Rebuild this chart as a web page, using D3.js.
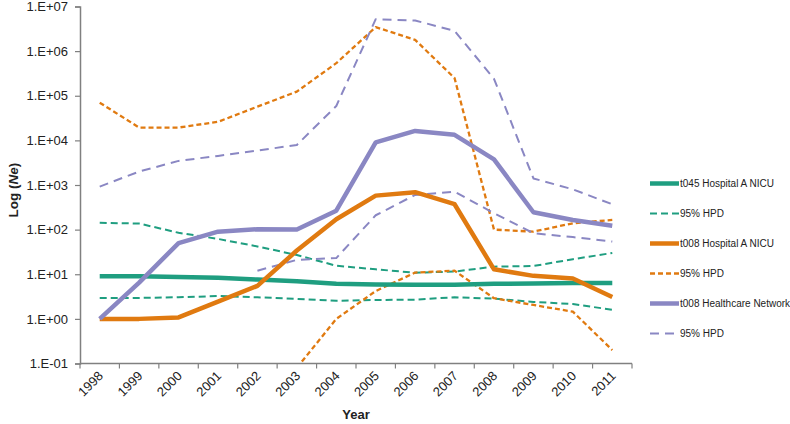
<!DOCTYPE html>
<html>
<head>
<meta charset="utf-8">
<script src="https://cdn.jsdelivr.net/npm/d3@7"></script>
<style>
  html, body { margin: 0; padding: 0; background: #fff; }
  svg { display: block; font-family: "Liberation Sans", Arial, sans-serif; }
</style>
</head>
<body>
<svg id="chart" width="790" height="424"></svg>
<script>
// ---- Data ----
const years = ["1998","1999","2000","2001","2002","2003","2004","2005","2006","2007","2008","2009","2010","2011"];
const yTickValues = [1e-1, 1e0, 1e1, 1e2, 1e3, 1e4, 1e5, 1e6, 1e7];

const t045HospA    = [9.0, 9.0, 8.7, 8.3, 7.6, 7.0, 6.1, 5.9, 5.8, 5.8, 6.1, 6.2, 6.4, 6.4];
const t045HospAHi  = [142, 137, 85, 62, 42, 27, 15.5, 12.9, 10.8, 11.5, 14.8, 15.3, 21.7, 30];
const t045HospALo  = [2.95, 2.95, 3.05, 3.25, 3.05, 2.8, 2.55, 2.65, 2.7, 3.05, 2.85, 2.4, 2.15, 1.6];

const t008HospA    = [1.0, 1.0, 1.08, 2.43, 5.5, 34, 171, 578, 689, 371, 12.9, 9.2, 8.0, 3.1];
const t008HospAHi  = [70000, 19400, 19400, 26000, 57000, 124000, 537000, 3450000, 1790000, 248000, 100, 90, 139, 165];
const t008HospALo  = [null, null, null, null, null, 0.08, 1.0, 4.2, 10.9, 12.0, 2.9, 2.05, 1.45, 0.2];

const t008Network   = [1.0, 6.5, 50, 90, 102, 101, 265, 9000, 16300, 13300, 3750, 245, 165, 122];
const t008NetworkHi = [920, 2000, 3470, 4490, 5900, 7900, 59000, 5200000, 4850000, 2850000, 240000, 1400, 800, 370];
const t008NetworkLo = [null, null, null, null, 12.0, 21, 23, 210, 600, 711, 233, 83, 68, 54];

const legendLabels = ["t045 Hospital A NICU", "95% HPD", "t008 Hospital A NICU", "95% HPD", "t008 Healthcare Network", "95% HPD"];

// ---- Styles ----
const TEAL = "#1f9e80", ORANGE = "#e07a10", PURPLE = "#8a87c3";
const series = [
  { values: t045HospA,     color: TEAL,   width: 4.5, dash: null },
  { values: t045HospALo,   color: TEAL,   width: 2,   dash: "7,4" },
  { values: t045HospAHi,   color: TEAL,   width: 2,   dash: "7,4" },
  { values: t008HospA,     color: ORANGE, width: 4.5, dash: null },
  { values: t008HospALo,   color: ORANGE, width: 2.3, dash: "5,3" },
  { values: t008HospAHi,   color: ORANGE, width: 2.3, dash: "5,3" },
  { values: t008Network,   color: PURPLE, width: 4.5, dash: null },
  { values: t008NetworkLo, color: PURPLE, width: 2,   dash: "9,6" },
  { values: t008NetworkHi, color: PURPLE, width: 2,   dash: "9,6" }
];

const svg = d3.select("#chart");
const mLeft = 80, mRight = 632, mTop = 6.5, mBottom = 363.5;

const x = d3.scaleBand().domain(years).range([mLeft, mRight]);
const cx = d => x(d) + x.bandwidth() / 2;
const y = d3.scaleLog().domain([0.1, 1e7]).range([mBottom, mTop]);

svg.append("defs").append("clipPath").attr("id", "plotclip")
  .append("rect").attr("x", mLeft).attr("y", mTop - 5)
  .attr("width", mRight - mLeft + 10).attr("height", mBottom - mTop + 5);

// ---- Lines ----
const line = d3.line()
  .defined(d => d.v != null)
  .x(d => cx(d.year))
  .y(d => y(d.v));

const gLines = svg.append("g").attr("clip-path", "url(#plotclip)");
const drawOrder = [1, 2, 4, 5, 7, 8, 0, 3, 6];
drawOrder.forEach(i => {
  const s = series[i];
  const data = years.map((yr, k) => ({ year: yr, v: s.values[k] }));
  gLines.append("path")
    .datum(data)
    .attr("d", line)
    .attr("fill", "none")
    .attr("stroke", s.color)
    .attr("stroke-width", s.width)
    .attr("stroke-linejoin", "round")
    .attr("stroke-dasharray", s.dash);
});

// ---- Axes ----
const fmt = d => {
  const e = Math.round(Math.log10(d));
  const sign = e < 0 ? "-" : "+";
  return "1.E" + sign + String(Math.abs(e)).padStart(2, "0");
};
const yAxis = svg.append("g")
  .attr("transform", `translate(${mLeft},0)`)
  .call(d3.axisLeft(y).tickValues(yTickValues).tickFormat(fmt).tickSize(5).tickPadding(7));
yAxis.select(".domain").attr("stroke", "#808080").attr("stroke-width", 1.5);
yAxis.selectAll(".tick line").attr("stroke", "#808080").attr("stroke-width", 1.2);
yAxis.selectAll(".tick text").attr("font-size", 13).attr("fill", "#222")
  .attr("font-family", "'Liberation Sans', Arial, sans-serif");

const xAxis = svg.append("g")
  .attr("transform", `translate(0,${mBottom})`)
  .call(d3.axisBottom(x).tickSize(0).tickPadding(0));
xAxis.select(".domain").remove();
xAxis.selectAll(".tick text")
  .attr("font-size", 13).attr("fill", "#222")
  .attr("font-family", "'Liberation Sans', Arial, sans-serif")
  .attr("text-anchor", "end")
  .attr("transform", "translate(1,10) rotate(-45)")
  .attr("dy", "0.35em");

svg.append("line").attr("x1", mLeft).attr("x2", mRight).attr("y1", mBottom).attr("y2", mBottom)
  .attr("stroke", "#808080").attr("stroke-width", 1.5);
const boundaries = years.map(d => x(d)).concat([x.range()[1]]);
svg.append("g").selectAll("line").data(boundaries).join("line")
  .attr("x1", d => d).attr("x2", d => d)
  .attr("y1", mBottom).attr("y2", mBottom + 5)
  .attr("stroke", "#808080").attr("stroke-width", 1.2);

// ---- Axis titles ----
const yt = svg.append("text")
  .attr("transform", `translate(18,${(mTop + mBottom) / 2 + 5}) rotate(-90)`)
  .attr("text-anchor", "middle")
  .attr("font-size", 13.5).attr("font-weight", "bold").attr("fill", "#222");
yt.append("tspan").text("Log (");
yt.append("tspan").attr("font-style", "italic").text("Ne");
yt.append("tspan").text(")");

svg.append("text")
  .attr("x", (mLeft + mRight) / 2).attr("y", 419)
  .attr("text-anchor", "middle")
  .attr("font-size", 13).attr("font-weight", "bold").attr("fill", "#222")
  .text("Year");

// ---- Legend ----
const legendSeries = [0, 2, 3, 5, 6, 8];
const lg = svg.append("g");
legendSeries.forEach((si, k) => {
  const s = series[si];
  const ly = 183.5 + k * 30;
  lg.append("line")
    .attr("x1", 650).attr("x2", 679).attr("y1", ly).attr("y2", ly)
    .attr("stroke", s.color).attr("stroke-width", s.width)
    .attr("stroke-dasharray", s.dash);
  lg.append("text")
    .attr("x", 680).attr("y", ly).attr("dy", "0.35em")
    .attr("font-size", 10).attr("fill", "#222")
    .text(legendLabels[k]);
});
</script>
</body>
</html>
